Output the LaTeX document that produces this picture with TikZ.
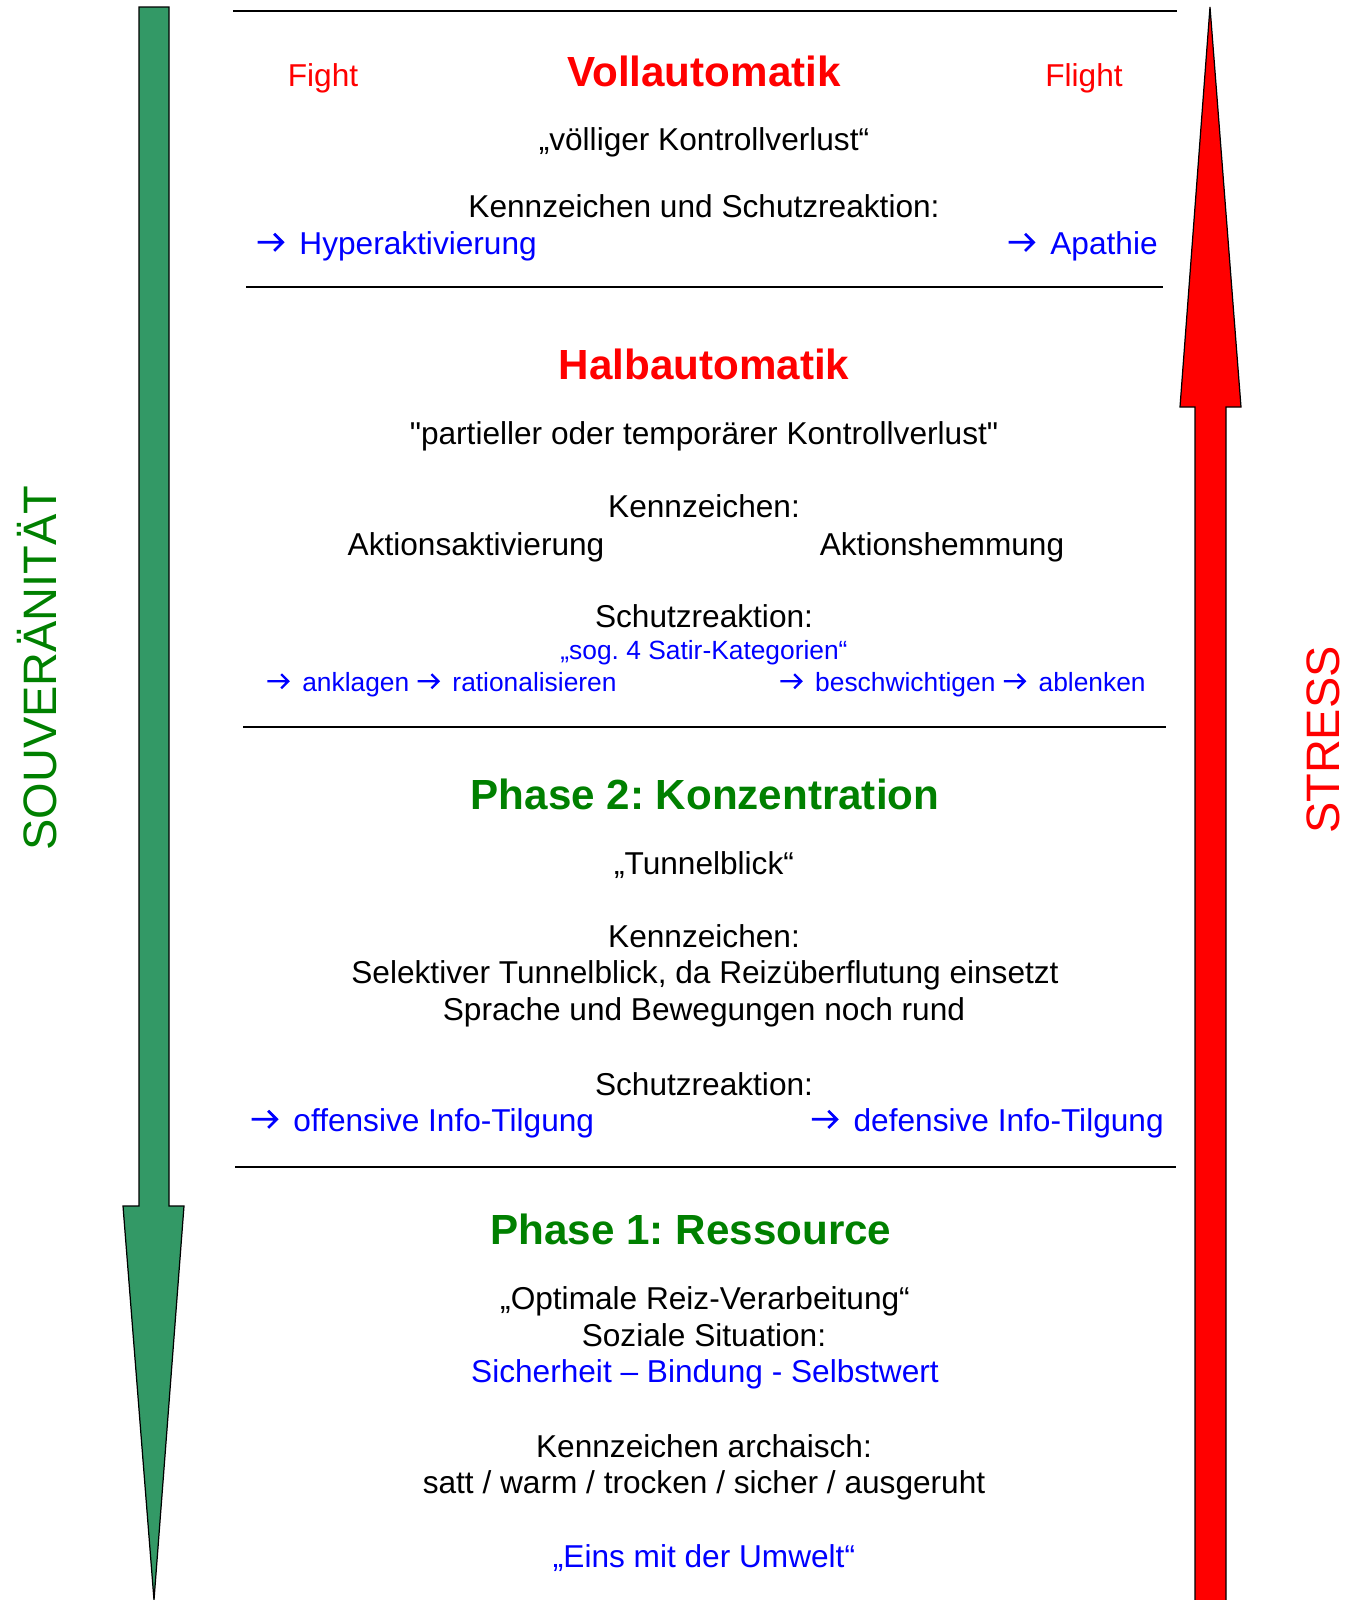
\documentclass[tikz,border=0pt]{standalone}
\usepackage{fontspec}
\setmainfont{Liberation Sans}
\usepackage{xcolor}
\usepackage{tikz}
\frenchspacing
\definecolor{SouGreen}{HTML}{339966}
\definecolor{StrRed}{HTML}{FF0000}
\definecolor{PhGreen}{HTML}{008000}
\definecolor{PhRed}{HTML}{FF0000}
\definecolor{PhBlue}{HTML}{0000FF}
% small open arrow as in the text lines
\newcommand{\sarr}{\tikz[baseline=0pt, x=1em, y=1em]
  \draw[line width=0.085em, line cap=butt, line join=miter]
  (0,0.37) -- (0.8,0.37) (0.52,0.64) -- (0.79,0.37) -- (0.52,0.10);\hspace{0.2em}}

\begin{document}
\begin{tikzpicture}[
  x=0.02cm, y=-0.02cm,
  txt/.style={inner sep=0pt, anchor=base, font=\fontsize{18}{21}\selectfont},
  small/.style={inner sep=0pt, anchor=base, font=\fontsize{15}{18}\selectfont, text=PhBlue},
  head/.style={inner sep=0pt, anchor=base, font=\fontsize{24}{28}\selectfont\bfseries},
  side/.style={inner sep=0pt, font=\fontsize{26.7}{30}\selectfont, rotate=90},
  sep/.style={draw=black, line width=0.8pt},
  bigarrow/.style={draw=black, line width=0.7pt, line join=miter}
]
  \useasboundingbox (0,0) rectangle (1354,1600);

  % side arrows
  \filldraw[bigarrow, fill=SouGreen] (139,7) -- (169,7) -- (169,1206) -- (184,1206)
    -- (154,1600) -- (123,1206) -- (139,1206) -- cycle;
  \filldraw[bigarrow, fill=StrRed] (1210,7) -- (1241,407) -- (1226,407) -- (1226,1604)
    -- (1195,1604) -- (1195,407) -- (1180,407) -- cycle;
  \node[side, text=PhGreen] (souv) at (37,668) {SOUVERÄNITÄT};
  \node[side, text=PhRed] (stress) at (1323,740) {STRESS};

  % separators
  \draw[sep] (233,11) -- (1177,11);
  \draw[sep] (246,287) -- (1163,287);
  \draw[sep] (243,727) -- (1166,727);
  \draw[sep] (235,1167) -- (1176,1167);

  % Vollautomatik
  \node[txt, text=PhRed] (fight) at (323,86) {Fight};
  \node[head, text=PhRed] (voll) at (704,86) {Vollautomatik};
  \node[txt, text=PhRed] (flight) at (1084,86) {Flight};
  \node[txt] (vollq) at (704,150) {„völliger Kontrollverlust“};
  \node[txt] (vollk) at (704,217) {Kennzeichen und Schutzreaktion:};
  \node[txt, anchor=base west, text=PhBlue] (hyper) at (256,254) {\sarr\ Hyperaktivierung};
  \node[txt, anchor=base east, text=PhBlue] (apath) at (1158,254) {\sarr\ Apathie};

  % Halbautomatik
  \node[head, text=PhRed] (halb) at (704,379) {Halbautomatik};
  \node[txt] (halbq) at (704,444) {\textquotedbl partieller oder temporärer Kontrollverlust\textquotedbl};
  \node[txt] (halbk) at (704,517) {Kennzeichen:};
  \node[txt] (aktiv) at (476,555) {Aktionsaktivierung};
  \node[txt] (hemm) at (942,555) {Aktionshemmung};
  \node[txt] (halbs) at (704,627) {Schutzreaktion:};
  \node[small] (satir) at (704,659) {„sog. 4 Satir-Kategorien“};
  \node[small, anchor=base west] (ankl) at (266,691) {\sarr\ anklagen \sarr\ rationalisieren};
  \node[small, anchor=base east] (besch) at (1146,691) {\sarr\ beschwichtigen \sarr\ ablenken};

  % Phase 2
  \node[head, text=PhGreen] (ph2) at (705,809) {Phase 2: Konzentration};
  \node[txt] (ph2q) at (704,874) {„Tunnelblick“};
  \node[txt] (ph2k) at (704,947) {Kennzeichen:};
  \node[txt] (ph2a) at (705,983) {Selektiver Tunnelblick, da Reizüberflutung einsetzt};
  \node[txt] (ph2b) at (704,1020) {Sprache und Bewegungen noch rund};
  \node[txt] (ph2s) at (704,1095) {Schutzreaktion:};
  \node[txt, anchor=base west, text=PhBlue] (offen) at (250,1131) {\sarr\ offensive Info-Tilgung};
  \node[txt, anchor=base east, text=PhBlue] (defen) at (1164,1131) {\sarr\ defensive Info-Tilgung};

  % Phase 1
  \node[head, text=PhGreen] (ph1) at (691,1244) {Phase 1: Ressource};
  \node[txt] (ph1q) at (705,1309) {„Optimale Reiz-Verarbeitung“};
  \node[txt] (ph1s) at (704,1346) {Soziale Situation:};
  \node[txt, text=PhBlue] (ph1b) at (705,1382) {Sicherheit – Bindung - Selbstwert};
  \node[txt] (ph1k) at (704,1457) {Kennzeichen archaisch:};
  \node[txt] (ph1a) at (704,1493) {satt / warm / trocken / sicher / ausgeruht};
  \node[txt, text=PhBlue] (ph1e) at (704,1567) {„Eins mit der Umwelt“};
\end{tikzpicture}
\end{document}
